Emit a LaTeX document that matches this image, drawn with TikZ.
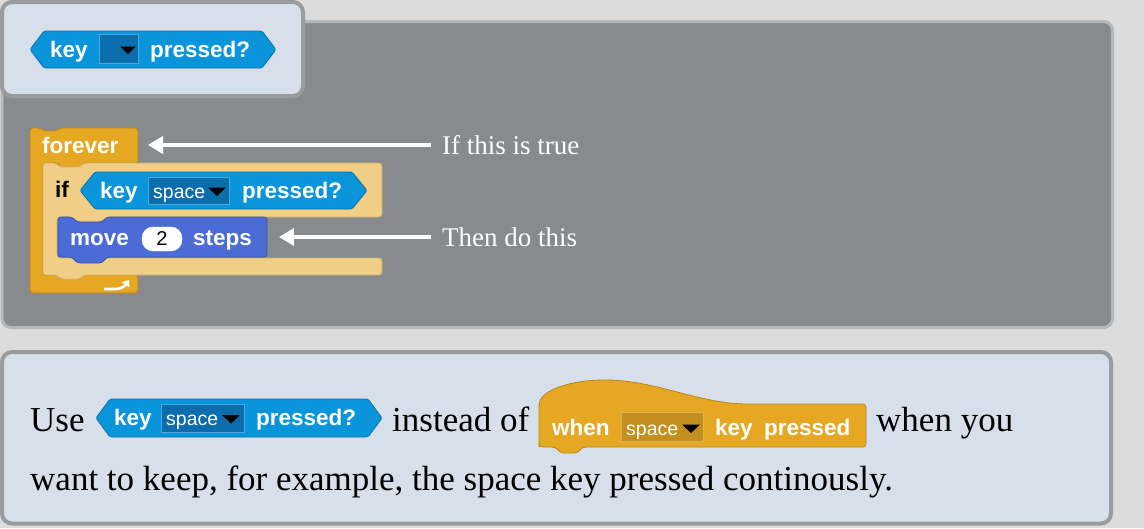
\documentclass[tikz,border=0pt]{standalone}
\usepackage{fontspec}
\setmainfont{Liberation Serif}
\newfontfamily\blockfont{Liberation Sans}
\usetikzlibrary{arrows.meta}
\definecolor{bgc}{HTML}{DCDCDC}
\definecolor{panelc}{HTML}{878B8D}
\definecolor{panelb}{HTML}{B4B8BB}
\definecolor{boxc}{HTML}{D7E0EA}
\definecolor{boxb}{HTML}{999C9F}
\definecolor{sensc}{HTML}{0A94D9}
\definecolor{sensdd}{HTML}{0B6DAC}
\definecolor{sensddb}{HTML}{4AA8DE}
\definecolor{ctrlc}{HTML}{E6A822}
\definecolor{ctrll}{HTML}{F1CE85}
\definecolor{ctrldd}{HTML}{C38F1E}
\definecolor{ctrlddb}{HTML}{DDB350}
\definecolor{motc}{HTML}{4A6CD4}
\tikzset{
 blk/.style={font=\blockfont\bfseries\fontsize{22.5}{26}\selectfont, text=white, inner sep=0, anchor=base west},
 blkdark/.style={blk, text=black},
 ddtxt/.style={font=\blockfont\fontsize{19.5}{23}\selectfont, text=white, inner sep=0, anchor=base west},
 lbl/.style={font=\fontsize{27}{32}\selectfont, text=white, inner sep=0, anchor=west},
 body/.style={font=\fontsize{35}{42}\selectfont, text=black, inner sep=0, anchor=base west},
 bigarrow/.style={draw=white, line width=4.5pt, -{Triangle[length=15pt,width=17pt]}},
 sensblk/.style={draw=sensc!78!black, fill=sensc, line width=0.8pt, rounded corners=1.5pt},
 sensdrop/.style={draw=sensddb, fill=sensdd, line width=1pt},
 ctrlblk/.style={draw=ctrlc!80!black, fill=ctrlc, line width=0.8pt, rounded corners=3pt},
 ctrllight/.style={draw=ctrll!85!black, fill=ctrll, line width=0.8pt, rounded corners=3pt},
 ctrldrop/.style={draw=ctrlddb, fill=ctrldd, line width=1pt},
 motblk/.style={draw=motc!78!black, fill=motc, line width=0.8pt, rounded corners=3pt},
 ddtri/.style={fill=black},
}
\begin{document}
\begin{tikzpicture}[x=1pt,y=-1pt]
\fill[bgc] (0,0) rectangle (1144,528);
\useasboundingbox (0,0) rectangle (1144,528);

% panels
\draw[panelb, fill=panelc, line width=3pt, rounded corners=9pt] (2,21.5) rectangle (1112.5,327.5);
\draw[boxb, fill=boxc, line width=4pt, rounded corners=10pt] (2,2) rectangle (303,96);
\draw[boxb, fill=boxc, line width=4pt, rounded corners=10pt] (2,352) rectangle (1111,523.5);

% ---- top block: key [ ] pressed?
\draw[sensblk] (30,49.5) -- (44,31) -- (262,31) -- (276,49.5) -- (262,68) -- (44,68) -- cycle;
\node[blk] (k1) at (50,57) {key};
\draw[sensdrop] (99,34) rectangle (138,63);
\fill[ddtri] (120,46.5) -- (136,46.5) -- (128,54) -- cycle;
\node[blk] (p1) at (150,57) {pressed?};

% ---- forever block
\draw[ctrlblk] (30,128) -- (40,128) -- (44,131) -- (56,131) -- (60,128) -- (138,128) -- (138,163)
  -- (84,163) -- (80,168) -- (62,168) -- (58,163) -- (43,163) -- (43,275) -- (138,275) -- (138,293)
  -- (30,293) -- cycle;
\node[blk] (fv) at (42,153) {forever};
\draw[white, line width=2.6pt, -{Triangle[length=6pt,width=9pt]}] (104,289) -- (116,289) to[out=0,in=-125] (129,280);

% ---- if block
\draw[ctrllight] (43,163) -- (56,163) -- (60,167) -- (80,167) -- (84,163) -- (382,163) -- (382,217)
  -- (107,217) -- (102,222) -- (77,222) -- (72,217) -- (57,217) -- (57,258) -- (382,258) -- (382,275)
  -- (84,275) -- (80,279) -- (61,279) -- (57,275) -- (43,275) -- cycle;
\node[blkdark] (ifk) at (55,197) {if};
\draw[sensblk] (80,190.5) -- (95,172) -- (352,172) -- (367,190.5) -- (352,209) -- (95,209) -- cycle;
\node[blk] (k2) at (100,198) {key};
\draw[sensdrop] (148,177) rectangle (229,204);
\node[ddtxt] (s2) at (153,198) {space};
\fill[ddtri] (208,187.5) -- (226,187.5) -- (217,196) -- cycle;
\node[blk] (p2) at (242,198) {pressed?};

% ---- move block
\draw[motblk] (58,217) -- (72,217) -- (77,222) -- (102,222) -- (107,217) -- (267,217) -- (267,257)
  -- (107,257) -- (102,263) -- (77,263) -- (72,257) -- (58,257) -- cycle;
\node[blk] (mv) at (70,245) {move};
\draw[white, fill=white, rounded corners=11pt] (142,227) rectangle (182,251);
\node[font=\blockfont\fontsize{20}{24}\selectfont, inner sep=0] (two) at (162,239) {2};
\node[blk] (st) at (193,245) {steps};

% ---- arrows and labels
\node[lbl] (lab1) at (442,145) {If this is true};
\node[lbl] (lab2) at (442,237) {Then do this};
\coordinate (t1) at (148,145);
\coordinate (t2) at (279,237);
\draw[bigarrow] ([xshift=-11pt]lab1.west) -- (t1);
\draw[bigarrow] ([xshift=-11pt]lab2.west) -- (t2);

% ---- bottom text
\node[body] (use) at (30,431) {Use};
\draw[sensblk] (96,418) -- (110,399) -- (368,399) -- (382,418) -- (368,437) -- (110,437) -- cycle;
\node[blk] (k3) at (114,425.5) {key};
\draw[sensdrop] (161,404) rectangle (244,432);
\node[ddtxt] (s3) at (166,425.5) {space};
\fill[ddtri] (222,415) -- (240,415) -- (231,423.5) -- cycle;
\node[blk] (p3) at (256,425.5) {pressed?};
\node[body] (inst) at (392,431) {instead of};

% hat block
\draw[ctrlblk] (539,444) -- (539,408) .. controls (539,392) and (565,381) .. (603,380)
  .. controls (655,380) and (700,404) .. (750,404) -- (866,404) -- (866,447)
  -- (583,447) -- (577,453) -- (561,453) -- (555,447) -- (539,447) -- cycle;
\node[blk] (wh) at (552,435) {when};
\draw[ctrldrop] (621,412) rectangle (703,441);
\node[ddtxt] (s4) at (626,435) {space};
\fill[ddtri] (682,424.5) -- (700,424.5) -- (691,433) -- cycle;
\node[blk] (k4) at (715,435) {key};
\node[blk] (pr4) at (764,435) {pressed};
\node[body] (wy) at (876,431) {when you};
\node[body] (l2) at (30,490) {want to keep, for example, the space key pressed continously.};
\end{tikzpicture}
\end{document}
